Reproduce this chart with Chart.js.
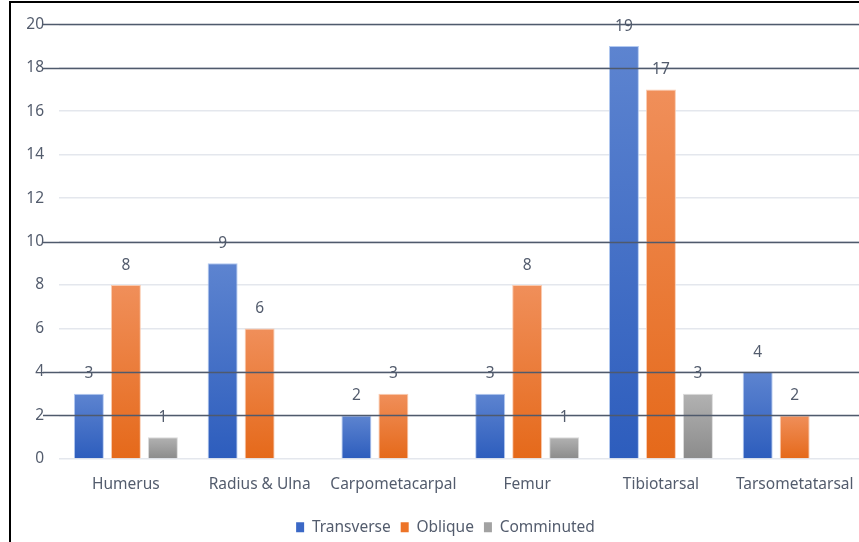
<!DOCTYPE html>
<html>
<head>
<meta charset="utf-8">
<script src="https://cdn.jsdelivr.net/npm/chart.js@4/dist/chart.umd.min.js"></script>
<style>
  html, body { margin: 0; padding: 0; background: #fff; overflow: hidden; width: 859px; height: 542px; }
  #wrap { position: absolute; left: 0; top: 0; width: 870px; height: 545px; }
  #frame { position: absolute; left: 9px; top: 1px; width: 900px; height: 600px; border: 2px solid #000; box-sizing: border-box; pointer-events: none; }
</style>
</head>
<body>
<div id="wrap"><canvas id="c" width="870" height="545"></canvas></div>
<div id="frame"></div>
<script>
const categories = ['Humerus', 'Radius & Ulna', 'Carpometacarpal', 'Femur', 'Tibiotarsal', 'Tarsometatarsal'];
const transverse = [3, 9, 2, 3, 19, 4];
const oblique = [8, 6, 3, 8, 17, 2];
const comminuted = [1, 0, 0, 1, 3, 0];
const yTicks = [0, 2, 4, 6, 8, 10, 12, 14, 16, 18, 20];
const referenceLevels = [2, 4, 10, 18, 20];

const TEXT = '#535c6d';
const FONT = { family: 'Noto Sans', size: 15.5 };

function barGradient(top, bottom) {
  return function (ctx) {
    const chart = ctx.chart;
    const y = chart.scales && chart.scales.y;
    if (!y || ctx.raw === undefined) return bottom;
    const y0 = y.getPixelForValue(0);
    const y1 = y.getPixelForValue(ctx.raw);
    if (!isFinite(y0) || !isFinite(y1) || y0 === y1) return bottom;
    const g = chart.ctx.createLinearGradient(0, y1, 0, y0);
    g.addColorStop(0, top);
    g.addColorStop(1, bottom);
    return g;
  };
}

// value labels above each non-zero bar
const valueLabels = {
  id: 'valueLabels',
  afterDatasetsDraw(chart) {
    const ctx = chart.ctx;
    ctx.save();
    ctx.font = '15.5px "Noto Sans"';
    ctx.fillStyle = TEXT;
    ctx.textAlign = 'center';
    ctx.textBaseline = 'bottom';
    chart.data.datasets.forEach((ds, i) => {
      const meta = chart.getDatasetMeta(i);
      meta.data.forEach((bar, j) => {
        const v = ds.data[j];
        if (!v) return;
        ctx.fillText(String(v), bar.x, bar.y - 12);
      });
    });
    ctx.restore();
  }
};

// darker horizontal rules at selected levels
const referenceRules = {
  id: 'referenceRules',
  afterDraw(chart) {
    const ctx = chart.ctx;
    const y = chart.scales.y;
    ctx.save();
    ctx.strokeStyle = '#4f5a6c';
    ctx.lineWidth = 1.6;
    referenceLevels.forEach(v => {
      const py = Math.round(y.getPixelForValue(v)) + 0.5;
      ctx.beginPath();
      ctx.moveTo(43, py);
      ctx.lineTo(chart.width, py);
      ctx.stroke();
    });
    ctx.restore();
  }
};

new Chart(document.getElementById('c'), {
  type: 'bar',
  data: {
    labels: categories,
    datasets: [
      { label: 'Transverse', data: transverse,
        backgroundColor: barGradient('#5d84d0', '#2d5dbd'), borderColor: 'rgba(170,195,240,0.9)', borderWidth: 1 },
      { label: 'Oblique', data: oblique,
        backgroundColor: barGradient('#f08f5a', '#e5691a'), borderColor: 'rgba(250,200,170,0.9)', borderWidth: 1 },
      { label: 'Comminuted', data: comminuted,
        backgroundColor: barGradient('#b2b2b2', '#8b8b8b'), borderColor: 'rgba(215,215,215,0.9)', borderWidth: 1 }
    ]
  },
  options: {
    responsive: false,
    animation: false,
    devicePixelRatio: 1,
    layout: { padding: { left: 27, right: 6, top: 13, bottom: 0 } },
    datasets: { bar: { categoryPercentage: 0.83, barPercentage: 0.81 } },
    scales: {
      x: {
        grid: { display: false, drawTicks: false },
        border: { display: false },
        ticks: { color: TEXT, font: FONT, padding: 16, maxRotation: 0, autoSkip: false }
      },
      y: {
        min: 0, max: 20,
        afterFit(s) { s.width = 32; },
        afterBuildTicks(s) { s.ticks = yTicks.map(v => ({ value: v })); },
        grid: { color: '#e4e7ed', lineWidth: 1.5, drawTicks: false },
        border: { display: false },
        ticks: { color: TEXT, font: FONT, padding: 15 }
      }
    },
    plugins: {
      legend: {
        position: 'bottom',
        labels: {
          color: TEXT, font: FONT,
          boxWidth: 8, boxHeight: 10, padding: 10,
          generateLabels(chart) {
            const fills = ['#3b68c6', '#ed7428', '#a2a2a2'];
            return chart.data.datasets.map((ds, i) => ({
              text: ds.label, fillStyle: fills[i], strokeStyle: fills[i], lineWidth: 0,
              fontColor: TEXT, datasetIndex: i, hidden: false
            }));
          }
        }
      },
      tooltip: { enabled: false }
    }
  },
  plugins: [valueLabels, referenceRules]
});
</script>
</body>
</html>
